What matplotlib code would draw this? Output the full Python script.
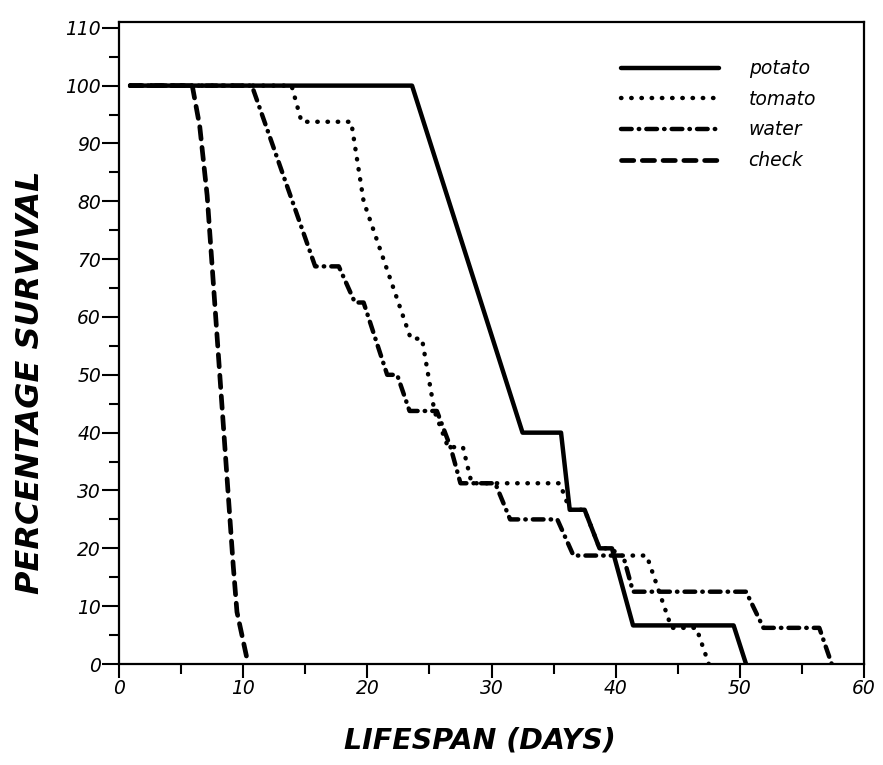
import matplotlib
matplotlib.use("Agg")
import matplotlib.pyplot as plt
from matplotlib.ticker import MultipleLocator

# survival curves: day, % surviving
potato_days = [0.9, 23.6, 32.5, 35.6, 36.3, 37.5, 38.7, 39.7, 41.4, 49.5, 50.5]
potato_surv = [100, 100, 40, 40, 26.67, 26.67, 20, 20, 6.67, 6.67, 0]

tomato_days = [0.9, 13.9, 14.7, 18.7, 19.7, 23.5, 24.4, 25.4, 26.5, 27.7, 28.4,
               35.5, 36.3, 37.5, 38.7, 39.7, 40.2, 42.5, 44.5, 46.5, 47.5]
tomato_surv = [100, 100, 93.75, 93.75, 80, 56.25, 56.25, 43.75, 37.5, 37.5, 31.25,
               31.25, 26.67, 26.67, 20, 20, 18.75, 18.75, 6.25, 6.25, 0]

water_days = [0.9, 10.7, 15.8, 17.7, 19.0, 19.7, 21.6, 22.4, 23.4, 25.6, 26.7, 27.5,
              30.3, 31.5, 35.3, 36.6, 40.6, 41.4, 50.5, 51.9, 56.4, 57.4]
water_surv = [100, 100, 68.75, 68.75, 62.5, 62.5, 50, 50, 43.75, 43.75, 37.5, 31.25,
              31.25, 25, 25, 18.75, 18.75, 12.5, 12.5, 6.25, 6.25, 0]

check_days = [0.9, 5.9, 6.5, 7.1, 9.2, 9.5, 9.9, 10.3]
check_surv = [100, 100, 93, 81, 17, 9, 5, 1]

fig = plt.figure(figsize=(8.83, 7.65), dpi=100)
ax = fig.add_axes([119 / 883, 1 - 664 / 765, 745 / 883, 642 / 765])

lw = 3.2
ax.plot(check_days, check_surv, color='black', lw=3.4, linestyle=(0, (2.6, 1.8)),
        dash_capstyle='round', label='check', zorder=2)
ax.plot(water_days, water_surv, color='black', lw=lw, linestyle=(0, (2.4, 1.6, 0.1, 1.6)),
        dash_capstyle='round', label='water', zorder=3)
ax.plot(tomato_days, tomato_surv, color='black', lw=lw, linestyle=(0, (0.1, 2.2)),
        dash_capstyle='round', label='tomato', zorder=4)
ax.plot(potato_days, potato_surv, color='black', lw=lw, solid_capstyle='round',
        label='potato', zorder=5)

ax.set_xlim(0, 60)
ax.set_ylim(0, 111)
ax.xaxis.set_major_locator(MultipleLocator(10))
ax.xaxis.set_minor_locator(MultipleLocator(5))
ax.yaxis.set_major_locator(MultipleLocator(10))
ax.yaxis.set_minor_locator(MultipleLocator(5))

for s in ax.spines.values():
    s.set_linewidth(1.6)
ax.tick_params(which='major', direction='out', width=1.5, length=10, labelsize=13.5)
ax.tick_params(axis='y', which='major', length=12, pad=1)
ax.tick_params(axis='x', which='major', pad=1)
ax.tick_params(which='minor', direction='out', width=1.5, length=7)
for lab in ax.get_xticklabels() + ax.get_yticklabels():
    lab.set_fontstyle('italic')

handles, labels = ax.get_legend_handles_labels()
order = [3, 2, 1, 0]
leg = ax.legend([handles[i] for i in order], [labels[i] for i in order],
                loc='upper left', bbox_to_anchor=(0.674, 0.942), frameon=False,
                handlelength=5.2, handletextpad=1.6, labelspacing=0.62,
                borderpad=0, borderaxespad=0, prop={'size': 13.5, 'style': 'italic'})

fig.text(31 / 883, 1 - 382 / 765, 'PERCENTAGE SURVIVAL', rotation=90, ha='center',
         va='center', fontsize=23, fontweight='bold', fontstyle='italic')
fig.text(480 / 883, 1 - 740 / 765, 'LIFESPAN (DAYS)', ha='center', va='center',
         fontsize=20.5, fontweight='bold', fontstyle='italic')

fig.savefig('out.png', dpi=100)
